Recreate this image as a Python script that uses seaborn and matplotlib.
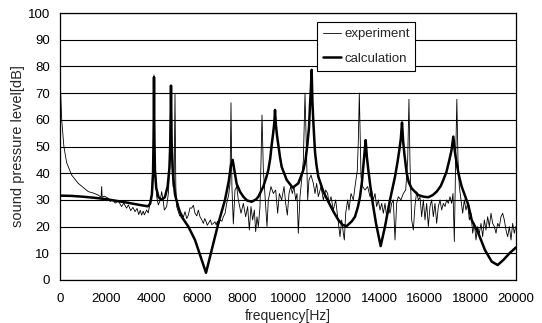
import matplotlib
matplotlib.use("Agg")
import matplotlib.pyplot as plt
import seaborn as sns
import pandas as pd

# ---- data ----
exp_freq = [0, 30, 75, 170, 290, 510, 800, 1000, 1240, 1450, 1680, 1800, 1827, 1850, 1950, 2120,
            2200, 2300, 2420, 2560, 2700, 2800, 2920, 3000, 3100, 3200, 3290, 3380, 3450, 3520,
            3580, 3650, 3700, 3800, 3870, 3947, 4030, 4080, 4123, 4165, 4240, 4313,
            4400, 4459, 4520, 4576, 4640, 4678, 4760, 4820, 4868, 4910, 4960, 5010, 5044, 5080,
            5117, 5190, 5250, 5336, 5410, 5483, 5560, 5629, 5700, 5775, 5850, 5921, 6000, 6067,
            6140, 6220, 6286, 6350, 6400, 6460, 6506, 6600, 6650, 6700, 6798, 6850, 6900, 6960,
            7017, 7100, 7164, 7240, 7310, 7400, 7456, 7500, 7540, 7602, 7675, 7750, 7822, 7939,
            8041, 8143, 8231, 8304, 8377, 8450, 8523, 8582, 8640, 8699, 8772, 8816, 8860, 8918,
            9020, 9079, 9137, 9254, 9357, 9459, 9547, 9620, 9722, 9825, 9898, 9971, 10044, 10117,
            10190, 10263, 10336, 10395, 10453, 10526, 10599, 10673, 10746, 10819, 10863, 10921,
            11009, 11111, 11184, 11257, 11330, 11447, 11550, 11652, 11740, 11798, 11886, 11988,
            12091, 12178, 12281, 12354, 12427, 12471, 12530, 12617, 12675, 12763, 12865, 12939,
            13040, 13085, 13128, 13202, 13275, 13377, 13494, 13596, 13670, 13743, 13816, 13889,
            13962, 14035, 14108, 14181, 14254, 14327, 14400, 14474, 14547, 14620, 14693, 14766,
            14839, 14956, 15058, 15161, 15249, 15305, 15351, 15424, 15497, 15570, 15643, 15716,
            15789, 15863, 15936, 16009, 16082, 16155, 16228, 16301, 16374, 16447, 16520, 16594,
            16667, 16740, 16813, 16886, 16959, 17032, 17105, 17178, 17237, 17295, 17353, 17405,
            17456, 17515, 17588, 17661, 17734, 17807, 17880, 17953, 18026, 18100, 18173, 18246,
            18319, 18392, 18465, 18538, 18611, 18684, 18757, 18830, 18904, 18977, 19050, 19123,
            19196, 19269, 19342, 19415, 19488, 19561, 19635, 19708, 19781, 19854, 19927, 19986]
exp_level = [80, 70, 60, 50, 44, 39.3, 36.2, 34.8, 33.1, 32.6, 31.8, 31, 35, 31, 31.4, 30.6,
             29.4, 30.2, 28.8, 29.6, 27.5, 28.8, 26.9, 28.1, 26, 27.2, 25.6, 26.8, 24.5, 26.1,
             24.3, 25.8, 24.4, 26.2, 25.1, 28.7, 33, 45, 76.8, 45, 31.2, 28.1,
             30, 33.1, 30, 26.2, 27, 27.5, 33, 50, 72.5, 45, 35, 40, 69.7, 35,
             27.5, 25.6, 24, 25, 23.5, 25.6, 23, 24.3, 27, 26.9, 28, 25, 24, 26.2,
             23.7, 22.5, 21.2, 23, 22, 20.5, 21.2, 22.5, 20.8, 21, 21.8, 20.6, 22, 21,
             22.5, 22, 23.7, 25, 28.7, 32, 36.2, 66.4, 35, 21, 33.7, 35, 30, 25,
             28.7, 23.7, 27.5, 18.7, 27.5, 22.5, 26.2, 18.1, 23.7, 20, 27.5, 44.9, 61.8, 41.2,
             27.5, 20, 30, 35, 32.4, 33.7, 25, 32.4, 30, 35, 28.7, 24.3, 32.4, 35,
             32.4, 35, 30, 32.4, 17.5, 31.2, 37.5, 44.9, 69.9, 44.9, 30, 37.5,
             39.3, 36.2, 32.4, 36.2, 31.2, 35, 30, 33.7, 32.4, 28.7, 31.2, 26.2,
             30, 23.7, 16.2, 22.5, 17.5, 15, 25, 30, 26.2, 32.4, 30, 35,
             41, 52.4, 70, 38.7, 35, 33.7, 35, 31.2, 33.7, 30, 32.4, 27.5,
             30, 26.2, 28.7, 25, 28.7, 23.7, 27.5, 25, 28.7, 30, 15, 28.7,
             31.2, 30, 32.4, 33.7, 44.9, 67.7, 43.7, 22.5, 18.7, 28, 33, 30,
             31, 23.7, 30, 22.5, 28.7, 20, 27.5, 30, 23.7, 28.7, 21.2, 27.5,
             30, 26.2, 28.7, 27.5, 30, 28.7, 31.2, 28.7, 32.4, 14.4, 44.9, 67.7,
             44.9, 35, 30, 25, 30, 26.2, 28.7, 22.5, 25, 17.5, 21.2, 15,
             20, 17.5, 21.2, 16.2, 22.5, 18.7, 23.7, 20, 25, 21.2, 20, 17.5,
             21.2, 20, 23.7, 25, 22.5, 18.7, 16.2, 20, 15, 21.2, 17.5, 20]

calc_freq = [0, 500, 1000, 1500, 2000, 2500, 3000, 3500, 3850, 3950, 4030, 4080, 4105, 4123,
             4140, 4165, 4220, 4320, 4450, 4600, 4720, 4800, 4840, 4868, 4895, 4950, 5044,
             5200, 5336, 5629, 5921, 6213, 6404, 6652, 6944, 7237, 7400, 7500, 7573, 7650,
             7748, 7900, 8041, 8200, 8406, 8600, 8699, 8918, 9050, 9137, 9220, 9284, 9350,
             9400, 9430, 9470, 9520, 9576, 9650, 9722, 9942, 10205, 10453, 10673, 10770,
             10848, 10920, 10965, 11000, 11038, 11070, 11111, 11184, 11250, 11330, 11550,
             11769, 12000, 12208, 12400, 12573, 12800, 12939, 13070, 13158, 13240, 13304,
             13360, 13406, 13460, 13523, 13600, 13670, 13860, 14064, 14254, 14474, 14693,
             14800, 14883, 14950, 15000, 15050, 15102, 15205, 15300, 15424, 15716, 15950,
             16155, 16350, 16520, 16700, 16813, 16950, 17076, 17170, 17251, 17320, 17397,
             17500, 17617, 17909, 18056, 18348, 18640, 18933, 19196, 19444, 19737, 20000]
calc_level = [31.6, 31.5, 31.2, 30.8, 30.3, 29.6, 28.9, 28.1, 27.6, 28.5, 32, 40, 52, 76,
              52, 41, 34.5, 31, 30, 31, 35, 42, 52, 72.8, 52, 40, 32,
              27, 23.7, 20, 15, 7.5, 2.7, 11.2, 21.2, 30, 37, 43, 45, 41,
              36, 33, 31.2, 29.8, 29.3, 30.2, 31.2, 35, 38.5, 41.2, 45.5, 50.6, 55,
              59, 63.7, 58, 54, 50.6, 46, 42.4, 37.5, 34.6, 36.2, 41.2, 45,
              50.6, 57, 65.5, 71, 78.7, 67, 59.3, 48, 43, 38.7, 33.1,
              29.3, 25.5, 22.5, 20.6, 20.2, 22, 23.7, 27.5, 31.2, 36.5, 42.4,
              48, 52.4, 46, 41.2, 36, 31.2, 21.2, 12.7, 20, 30, 38.7,
              44, 48.7, 53, 59, 52, 47.4, 40, 36.5, 34.3, 31.8, 31.2,
              31, 31.8, 33.1, 35.2, 37.5, 40.5, 44.9, 48.5, 53.7, 48, 43.7,
              39, 35, 28.1, 22.5, 17.5, 11.2, 6.9, 5.6, 7.5, 10.2, 12.2]

df_exp = pd.DataFrame({"frequency": exp_freq, "level": exp_level})
df_calc = pd.DataFrame({"frequency": calc_freq, "level": calc_level})

sns.set_style("white")
plt.rcParams["font.family"] = ["Liberation Sans", "DejaVu Sans"]

fig = plt.figure(figsize=(5.42, 3.23), dpi=100)
ax = fig.add_axes([60 / 542, 1 - 280 / 323, 456 / 542, 267 / 323])

sns.lineplot(data=df_exp, x="frequency", y="level", ax=ax, color="black",
             linewidth=0.6, label="experiment", sort=False, estimator=None)
sns.lineplot(data=df_calc, x="frequency", y="level", ax=ax, color="black",
             linewidth=1.8, label="calculation", sort=False, estimator=None)

ax.set_xlim(0, 20000)
ax.set_ylim(0, 100)
ax.set_xticks(range(0, 20001, 2000))
ax.set_yticks(range(0, 101, 10))
ax.yaxis.grid(True, color="black", linewidth=0.8)
ax.xaxis.grid(False)
ax.set_axisbelow(True)
for s in ax.spines.values():
    s.set_color("black")
    s.set_linewidth(0.9)
ax.tick_params(axis="x", direction="in", length=4, width=0.8, labelsize=9.5, pad=9, colors="black")
ax.tick_params(axis="y", direction="out", length=4, width=0.8, labelsize=9.5, pad=3, colors="black")
ax.set_xlabel("frequency[Hz]", fontsize=10, labelpad=3)
ax.set_ylabel("sound pressure level[dB]", fontsize=10.5, labelpad=2)

leg = ax.legend(loc="upper left", bbox_to_anchor=((317 - 60) / 456, (280 - 22) / 267),
                frameon=True, fancybox=False, framealpha=1, edgecolor="black",
                fontsize=9.5, handlelength=1.35, handletextpad=0.25, labelspacing=0.95,
                borderpad=0.45, borderaxespad=0)
leg.get_frame().set_linewidth(0.8)

fig.savefig("out.png", dpi=100)
